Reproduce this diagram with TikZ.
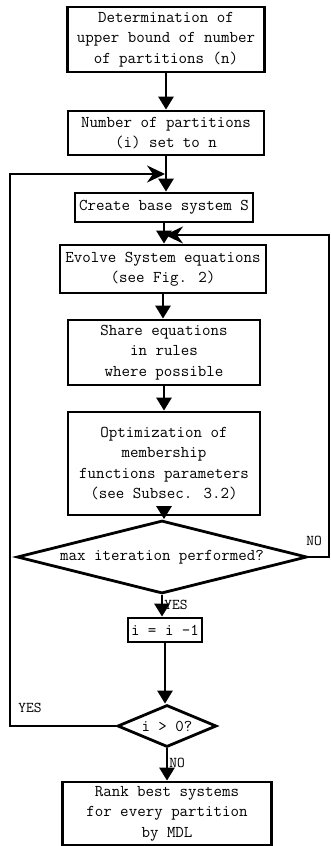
\documentclass[tikz,border=0pt]{standalone}
\usepackage{fontspec}
\usetikzlibrary{arrows.meta,shapes.geometric}
\begin{document}
\begin{tikzpicture}[x=1pt,y=-1pt,line width=2.8pt,
  every node/.style={font=\ttfamily\fontsize{16.5}{20.5}\selectfont},
  box/.style={draw,line width=2.8pt,align=center,inner sep=0pt},
  dec/.style={draw,line width=2.8pt,shape=diamond,inner sep=0pt},
  flow/.style={-{Triangle[width=15pt,length=13pt]}},
  back/.style={-{Stealth[width=17pt,length=18pt,inset=6pt]}},
  lab/.style={font=\ttfamily\fontsize{15}{17}\selectfont,inner sep=1pt}]
\useasboundingbox (0,0) rectangle (331,846);
\node[box,minimum width=197pt,minimum height=65pt] (det) at (166,39.5) {Determination of\\upper bound of number\\of partitions (n)};
\node[box,minimum width=196pt,minimum height=44pt] (num) at (166,133) {Number of partitions\\(i) set to n};
\node[box,minimum width=178pt,minimum height=29pt] (create) at (164,207.5) {Create base system S};
\node[box,minimum width=206pt,minimum height=48pt] (evolve) at (163,269) {Evolve System equations\\(see Fig. 2)};
\node[box,minimum width=192pt,minimum height=65pt] (share) at (164,352.5) {Share equations\\in rules\\where possible};
\node[box,minimum width=192pt,minimum height=103pt] (optim) at (164,463.5) {Optimization of\\membership\\functions parameters\\(see Subsec. 3.2)};
\node[dec,aspect=4,minimum width=290pt,minimum height=73pt] (maxit) at (162,557) {max iteration performed?};
\node[box,minimum width=74pt,minimum height=24pt] (decr) at (165,630) {i = i -1};
\node[dec,aspect=2.4,minimum width=99pt,minimum height=42pt] (igt) at (167,726) {i > 0?};
\node[box,minimum width=209pt,minimum height=63pt] (rank) at (167,813.5) {Rank best systems\\for every partition\\by MDL};
\coordinate (loopin) at (165,174);
\coordinate (fbin) at (165,235);
\draw[flow] (det) -- (num);
\draw[flow] (num.south) -- (num.south |- create.north);
\draw[flow] (create.south) -- (create.south |- evolve.north);
\draw[flow] (evolve.south) -- (evolve.south |- share.north);
\draw[flow] (share) -- (optim);
\draw[flow] (optim.south) -- (optim.south |- maxit.north);
\draw[flow] (maxit.south) -- (maxit.south |- decr.north) node[lab,pos=0.45,right] {YES};
\draw[flow] (decr.south) -- (decr.south |- igt.north);
\draw[flow] (igt.south) -- (igt.south |- rank.north) node[lab,pos=0.45,right] {NO};
\draw[back] (maxit.east) -- (329,557) -- (329,235) -- (fbin);
\draw[back] (igt.west) -- (10,726) -- (10,174) -- (loopin);
\node[lab] (no1) at (314,541) {NO};
\node[lab] (yes2) at (30,708) {YES};
\end{tikzpicture}
\end{document}
